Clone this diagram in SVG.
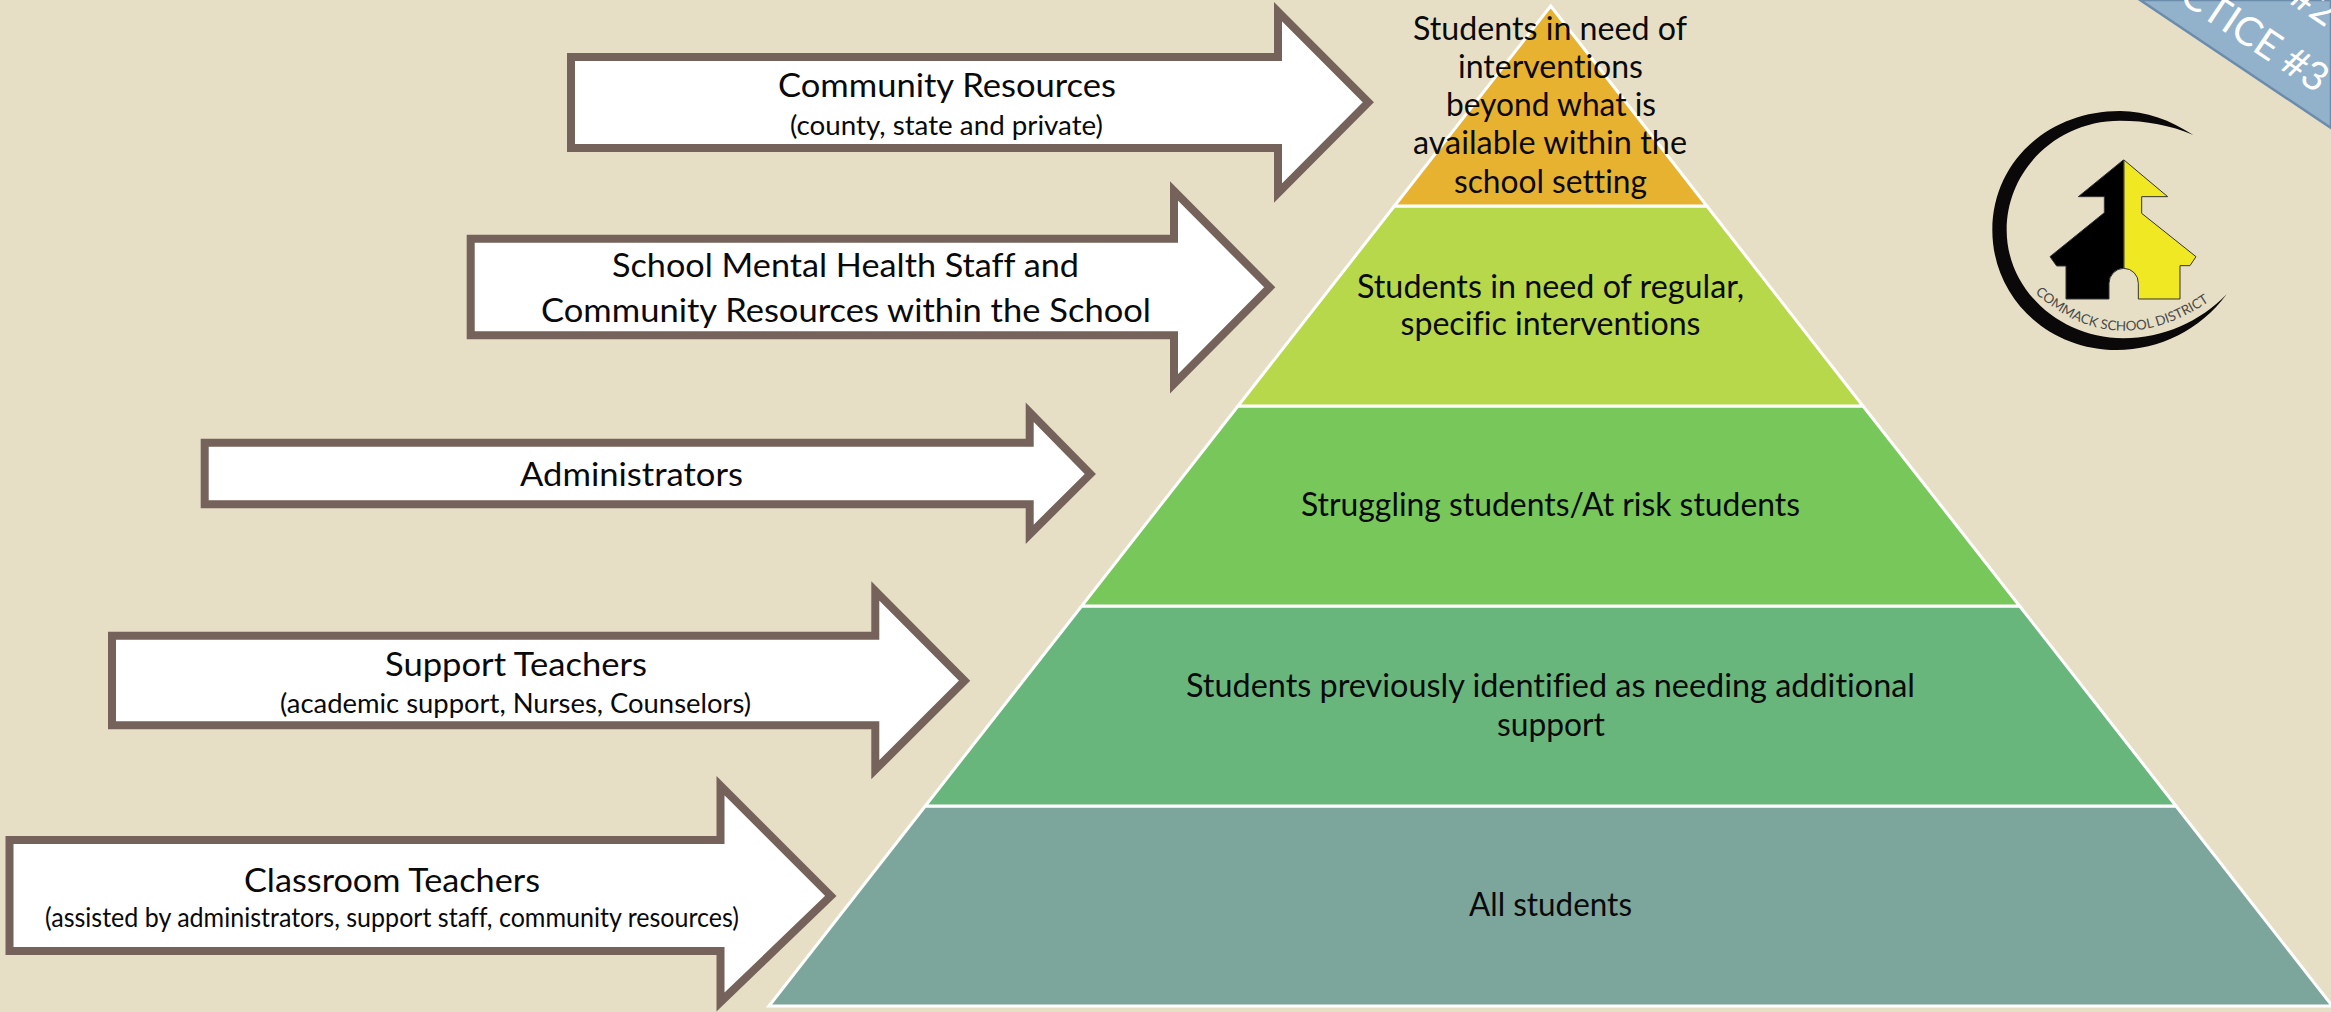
<svg xmlns="http://www.w3.org/2000/svg" width="2331" height="1012" viewBox="0 0 2331 1012">
<style>
.arrow{fill:#fff;stroke:#75625A;stroke-width:8;stroke-linejoin:miter;stroke-miterlimit:10}
.layer{stroke:#fff;stroke-width:3;stroke-linejoin:miter;stroke-miterlimit:10}
text{font-family:Lato,"Open Sans",sans-serif;fill:#0a0a0a;font-variant-ligatures:none}
.l{font-size:32px}
.s{font-size:26px}
.b{font-size:40px;fill:#fff;text-anchor:end}
</style>
<rect width="2331" height="1012" fill="#E6DFC6"/>
<g id="banner">
<polygon points="2140,0 2331,128 2331,0" fill="#92B1CB" stroke="#6C8CAB" stroke-width="2.5"/>
<text class="b" transform="translate(2317 94) rotate(33.8)">CTICE #3</text>
<text class="b" transform="translate(2326 28) rotate(33.8)">#2</text>
</g>
<g id="logo" transform="translate(1950 0) scale(.33333)">
<path fill="#0a0808" d="M730,405 C660,360 590,333 510,333 C290,333 127,490 127,690 C127,890 290,1050 500,1050 C630,1050 750,990 830,883 C750,965 640,1015 520,1015 C330,1015 170,870 170,690 C170,510 320,362 510,362 C590,362 660,375 730,405 Z"/>
<path fill="#000" stroke="#333" stroke-width="3" d="M520,480 L385,590 L463,590 L463,638 L300,770 L320,798 L348,798 L348,897 L477,897 L477,850 A45,45 0 0 1 521,805 L521,480 Z"/>
<path fill="#F0E823" stroke="#333" stroke-width="3" d="M522,480 L653,590 L575,590 L575,640 L738,770 L720,797 L690,797 L690,897 L565,897 L565,850 A44,44 0 0 0 522,805 Z"/>
</g>
<defs><path id="logoarc" d="M2035,293 Q2122,370 2225,290"/></defs>
<text id="logo-text" font-size="13.4" style="fill:#4a4a4a"><textPath href="#logoarc">COMMACK SCHOOL DISTRICT</textPath></text>

<g id="layer-all"><polygon class="layer" fill="#7CA69C" points="925.3,806 2176,806 2332.3,1006 769,1006"/>
<text class="l" x="1550.5" y="916" text-anchor="middle" textLength="163" lengthAdjust="spacingAndGlyphs">All students</text></g>
<g id="layer-previous"><polygon class="layer" fill="#69B67D" points="1081.7,606 2019.6,606 2176,806 925.3,806"/>
<text class="l" x="1550.5" y="697" text-anchor="middle" textLength="729" lengthAdjust="spacingAndGlyphs">Students previously identified as needing additional</text>
<text class="l" x="1551" y="736" text-anchor="middle" textLength="108" lengthAdjust="spacingAndGlyphs">support</text></g>
<g id="layer-struggling"><polygon class="layer" fill="#78C75A" points="1238,406 1863,406 2019.6,606 1081.7,606"/>
<text class="l" x="1550.5" y="516" text-anchor="middle" textLength="499" lengthAdjust="spacingAndGlyphs">Struggling students/At risk students</text></g>
<g id="layer-regular"><polygon class="layer" fill="#B7D84A" points="1394.4,206 1706.9,206 1863,406 1238,406"/>
<text class="l" x="1550.5" y="298" text-anchor="middle" textLength="387" lengthAdjust="spacingAndGlyphs">Students in need of regular,</text>
<text class="l" x="1550.5" y="335" text-anchor="middle" textLength="300" lengthAdjust="spacingAndGlyphs">specific interventions</text></g>
<g id="layer-top"><polygon class="layer" fill="#E8B231" points="1550.7,6 1706.9,206 1394.4,206"/>
<text class="l" x="1550" y="40" text-anchor="middle" textLength="274" lengthAdjust="spacingAndGlyphs">Students in need of</text>
<text class="l" x="1550.5" y="78.3" text-anchor="middle" textLength="185" lengthAdjust="spacingAndGlyphs">interventions</text>
<text class="l" x="1551" y="116.3" text-anchor="middle" textLength="210" lengthAdjust="spacingAndGlyphs">beyond what is</text>
<text class="l" x="1550" y="154.3" text-anchor="middle" textLength="274" lengthAdjust="spacingAndGlyphs">available within the</text>
<text class="l" x="1550.5" y="192.7" text-anchor="middle" textLength="193" lengthAdjust="spacingAndGlyphs">school setting</text></g>

<g id="arrow-community"><polygon class="arrow" points="571,57 1278,57 1278,11.7 1368.3,102.3 1278,193 1278,148 571,148"/>
<text class="l" x="947" y="96.7" text-anchor="middle" textLength="338" lengthAdjust="spacingAndGlyphs">Community Resources</text>
<text class="s" x="946.5" y="135" text-anchor="middle" textLength="313" lengthAdjust="spacingAndGlyphs">(county, state and private)</text></g>
<g id="arrow-mental-health"><polygon class="arrow" points="470.7,238.7 1174,238.7 1174,191 1269.7,287.3 1174,383.7 1174,335.3 470.7,335.3"/>
<text class="l" x="845.5" y="276.7" text-anchor="middle" textLength="467" lengthAdjust="spacingAndGlyphs">School Mental Health Staff and</text>
<text class="l" x="846" y="321.7" text-anchor="middle" textLength="610" lengthAdjust="spacingAndGlyphs">Community Resources within the School</text></g>
<g id="arrow-administrators"><polygon class="arrow" points="204.7,442.7 1029.7,442.7 1029.7,412.3 1090.3,474 1029.7,534.3 1029.7,504.3 204.7,504.3"/>
<text class="l" x="631.5" y="486" text-anchor="middle" textLength="223" lengthAdjust="spacingAndGlyphs">Administrators</text></g>
<g id="arrow-support"><polygon class="arrow" points="112,635.7 875.3,635.7 875.3,591 964.6,680.7 875.3,769.7 875.3,725.3 112,725.3"/>
<text class="l" x="516" y="676" text-anchor="middle" textLength="262" lengthAdjust="spacingAndGlyphs">Support Teachers</text>
<text class="s" x="515.5" y="712.7" text-anchor="middle" textLength="471" lengthAdjust="spacingAndGlyphs">(academic support, Nurses, Counselors)</text></g>
<g id="arrow-classroom"><polygon class="arrow" points="9.5,840 720.5,840 720.5,785.6 830.8,896 720.5,1002 720.5,951 9.5,951"/>
<text class="l" x="392" y="891.7" text-anchor="middle" textLength="296" lengthAdjust="spacingAndGlyphs">Classroom Teachers</text>
<text class="s" x="392" y="926.7" text-anchor="middle" textLength="694" lengthAdjust="spacingAndGlyphs">(assisted by administrators, support staff, community resources)</text></g>
</svg>
